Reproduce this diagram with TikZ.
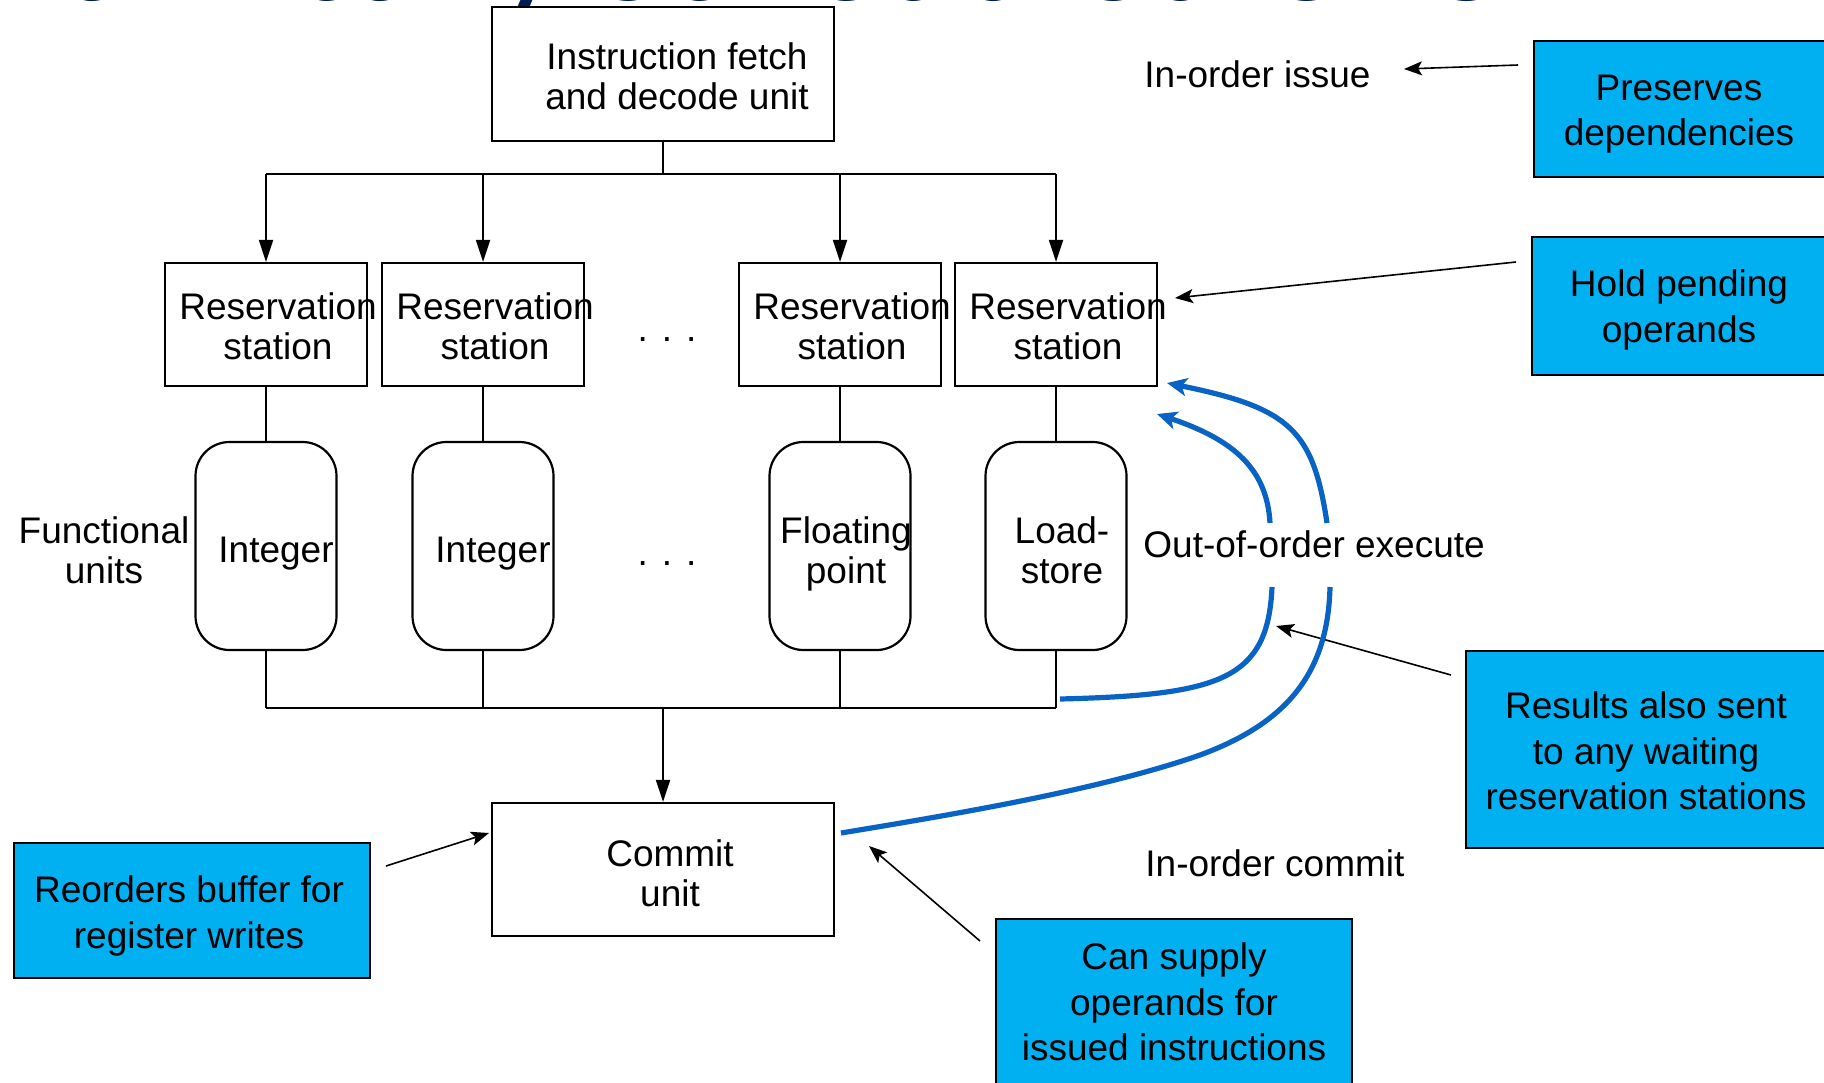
\documentclass[tikz,border=0pt]{standalone}
\usepackage{fontspec}
\setmainfont{Liberation Sans}
\newfontfamily\titlefont{Carlito}
\usetikzlibrary{arrows.meta}
\definecolor{calloutblue}{RGB}{0,176,240}
\definecolor{curveblue}{RGB}{8,99,196}
\definecolor{titlenavy}{RGB}{0,28,80}
\begin{document}
\begin{tikzpicture}[x=0.5pt,y=-0.5pt,
 txt/.style={font=\fontsize{18.5pt}{20pt}\selectfont, inner sep=0pt, align=center},
 btxt/.style={font=\fontsize{18.5pt}{22.7pt}\selectfont, inner sep=0pt, align=center},
 unitbox/.style={draw=black, line width=1.1pt, fill=white, inner sep=0pt},
 fubox/.style={unitbox, rounded corners=17pt, minimum width=70.5pt, minimum height=104pt},
 rsbox/.style={unitbox, minimum width=101pt, minimum height=61.5pt},
 bigbox/.style={unitbox, minimum width=171pt, minimum height=67pt},
 callout/.style={draw=black, line width=1.4pt, fill=calloutblue, inner sep=0pt},
 conn/.style={line width=1pt, draw=black},
 downarrow/.style={conn, -{Triangle[length=11pt,width=7pt]}},
 notearrow/.style={line width=0.8pt, -{Stealth[length=9pt,width=7pt,inset=2pt]}},
 fwd/.style={line width=2.6pt, draw=curveblue},
 fwdarrow/.style={fwd, -{Stealth[length=10pt,width=9pt,inset=2.5pt]}},
]
\useasboundingbox (0,0) rectangle (1824,1082);
\clip (0,0) rectangle (1824,1082);
\fill[white] (0,0) rectangle (1824,1082);

% title (cut off at the top)
\node[anchor=base west, inner sep=0pt, text=titlenavy,
      font=\titlefont\fontsize{75pt}{75pt}\selectfont] (title) at (-174,0) {Dynamically Scheduled CPU};

% instruction fetch
\node[bigbox] (ifu) at (663,74) {};
\node[txt] (ifut) at (677,76) {Instruction fetch\\and decode unit};

% reservation stations
\node[rsbox] (rs1) at (266,324.5) {};
\node[rsbox] (rs2) at (483,324.5) {};
\node[rsbox] (rs3) at (840,324.5) {};
\node[rsbox] (rs4) at (1056,324.5) {};
\node[txt] (rs1t) at (278,326) {Reservation\\station};
\node[txt] (rs2t) at (495,326) {Reservation\\station};
\node[txt] (rs3t) at (852,326) {Reservation\\station};
\node[txt] (rs4t) at (1068,326) {Reservation\\station};
\node[txt, anchor=base] (dots1) at (667,341) {.\hspace{7pt}.\hspace{7pt}.};

% functional units
\node[fubox] (fu1) at (266,546) {};
\node[fubox] (fu2) at (483,546) {};
\node[fubox] (fu3) at (840,546) {};
\node[fubox] (fu4) at (1056,546) {};
\node[txt] (fu1t) at (276,554) {Integer};
\node[txt] (fu2t) at (493,554) {Integer};
\node[txt] (fu3t) at (846,554) {Floating\\point};
\node[txt] (fu4t) at (1062,550) {Load-\\store};
\node[txt, anchor=base] (dots2) at (667,565) {.\hspace{7pt}.\hspace{7pt}.};
\node[txt] (fulabel) at (104,550) {Functional\\units};

% commit unit
\node[bigbox, minimum height=66.5pt] (cu) at (663,869.5) {};
\node[txt] (cut) at (670,873) {Commit\\unit};

% side labels
\node[txt, anchor=base west] (issue) at (1144,87) {In-order issue};
\node[txt, anchor=base west] (exec) at (1143,557) {Out-of-order execute};
\node[txt, anchor=base west] (commit) at (1145,876) {In-order commit};

% call-out boxes
\node[callout, minimum width=148pt, minimum height=68pt] (pres) at (1682,109) {};
\node[btxt] (prest) at (1679,114) {Preserves\\dependencies};
\node[callout, minimum width=149pt, minimum height=69pt] (hold) at (1681,306) {};
\node[btxt] (holdt) at (1679,310) {Hold pending\\operands};
\node[callout, minimum width=182pt, minimum height=98.5pt] (res) at (1648,749.5) {};
\node[btxt] (rest) at (1646,751) {Results also sent\\to any waiting\\reservation stations};
\node[callout, minimum width=178pt, minimum height=88pt] (can) at (1174,1007) {};
\node[btxt] (cant) at (1174,1002) {Can supply\\operands for\\issued instructions};
\node[callout, minimum width=178pt, minimum height=67.5pt] (reord) at (192,910.5) {};
\node[btxt] (reordt) at (189,916) {Reorders buffer for\\register writes};

% buses
\coordinate (busT) at (663,174);
\coordinate (busB) at (663,708);
\draw[conn] (ifu.south) -- (busT);
\draw[conn] (rs1.north |- busT) -- (rs4.north |- busT);
\foreach \r in {rs1,rs2,rs3,rs4} \draw[downarrow] (\r.north |- busT) -- (\r.north);
\draw[conn] (rs1.south) -- (fu1.north);
\draw[conn] (rs2.south) -- (fu2.north);
\draw[conn] (rs3.south) -- (fu3.north);
\draw[conn] (rs4.south) -- (fu4.north);
\foreach \f in {fu1,fu2,fu3,fu4} \draw[conn] (\f.south) -- (\f.south |- busB);
\draw[conn] (fu1.south |- busB) -- (fu4.south |- busB);
\draw[downarrow] (busB) -- (cu.north);

% annotation arrows
\coordinate (a1s) at (1518,65);  \coordinate (a1e) at (1404,69);
\coordinate (a2s) at (1516,262); \coordinate (a2e) at (1175,298);
\coordinate (a3s) at (1451,675); \coordinate (a3e) at (1276,626);
\coordinate (a4s) at (980,941);  \coordinate (a4e) at (869,846);
\coordinate (a5s) at (386,866);  \coordinate (a5e) at (489,833);
\draw[notearrow] (a1s) -- (a1e);
\draw[notearrow] (a2s) -- (a2e);
\draw[notearrow] (a3s) -- (a3e);
\draw[notearrow] (a4s) -- (a4e);
\draw[notearrow] (a5s) -- (a5e);

% forwarding curves
\coordinate (in0) at (1060,699);
\coordinate (in1) at (1272,587);
\coordinate (in2) at (1270,523);
\coordinate (in3) at (1157,414);
\draw[fwd] (in0) .. controls (1220,695) and (1268,680) .. (in1);
\draw[fwdarrow] (in2) .. controls (1267,470) and (1235,440) .. (in3);
\coordinate (out0) at (841,833);
\coordinate (outm) at (1200,755);
\coordinate (out1) at (1330,587);
\coordinate (out2) at (1327,523);
\coordinate (out3) at (1167,383);
\draw[fwd] (out0) .. controls (950,815) and (1100,790) .. (outm)
                  .. controls (1290,722) and (1328,670) .. (out1);
\draw[fwdarrow] (out2) .. controls (1313,430) and (1290,408) .. (out3);
\end{tikzpicture}
\end{document}
